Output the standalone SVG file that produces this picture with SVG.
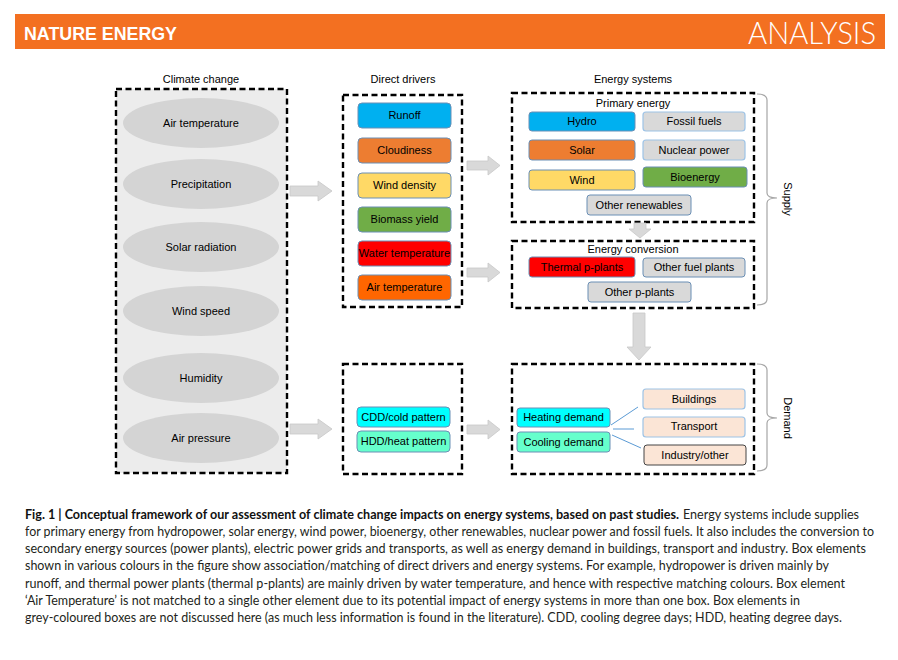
<svg xmlns="http://www.w3.org/2000/svg" width="898" height="660" viewBox="0 0 898 660">
<style>
.lbl{font-family:"Liberation Sans",Arial,sans-serif;font-size:11px;fill:#000;text-anchor:middle}
.ttl{font-family:"Liberation Sans",Arial,sans-serif;font-size:11px;fill:#000;text-anchor:middle}
.dash{fill:none;stroke:#000;stroke-width:2.4;stroke-dasharray:6 3.5}
.ell{fill:#d4d4d4;stroke:none}
.box{stroke:#6b8fb5;stroke-width:1}
.lbox{stroke:#9dc3e6;stroke-width:1.2}
.arr{fill:#d9d9d9;stroke:#c8c8c8;stroke-width:0.8}
.brace{fill:none;stroke:#a6a6a6;stroke-width:1.2}
.cap{font-family:Lato,"Open Sans","Liberation Sans",sans-serif;font-size:12.6px;fill:#231f20}
.capb{font-family:Lato,"Open Sans","Liberation Sans",sans-serif;font-size:12.6px;font-weight:bold;fill:#111}
.ln{stroke:#5b9bd5;stroke-width:1;fill:none}
</style>
<rect width="898" height="660" fill="#fff"/>
<g id="header">
<rect x="15" y="14" width="870" height="35" fill="#f37021"/>
<text x="24" y="40" font-family="'Liberation Sans',Arial,sans-serif" font-size="19" font-weight="bold" fill="#fff" textLength="153" lengthAdjust="spacingAndGlyphs">NATURE ENERGY</text>
<text x="748" y="44" font-family="Lato,'Open Sans','Liberation Sans',sans-serif" font-size="32" font-weight="300" fill="#fff" textLength="128" lengthAdjust="spacingAndGlyphs">ANALYSIS</text>
</g>

<g id="titles">
<text class="ttl" x="201" y="83">Climate change</text>
<text class="ttl" x="403" y="83">Direct drivers</text>
<text class="ttl" x="633" y="83">Energy systems</text>
</g>

<g id="climate-change">
<rect x="116" y="89" width="171" height="384" fill="#ececec"/>
<rect x="116" y="89" width="171" height="384" class="dash"/>
<g id="cc-air-temperature"><ellipse class="ell" cx="201" cy="123" rx="78" ry="25"/><text class="lbl" x="201" y="127">Air temperature</text></g>
<g id="cc-precipitation"><ellipse class="ell" cx="201" cy="184" rx="78" ry="25"/><text class="lbl" x="201" y="188">Precipitation</text></g>
<g id="cc-solar-radiation"><ellipse class="ell" cx="201" cy="247" rx="78" ry="25"/><text class="lbl" x="201" y="251">Solar radiation</text></g>
<g id="cc-wind-speed"><ellipse class="ell" cx="201" cy="311" rx="78" ry="25"/><text class="lbl" x="201" y="315">Wind speed</text></g>
<g id="cc-humidity"><ellipse class="ell" cx="201" cy="378" rx="78" ry="25"/><text class="lbl" x="201" y="382">Humidity</text></g>
<g id="cc-air-pressure"><ellipse class="ell" cx="201" cy="438" rx="78" ry="25"/><text class="lbl" x="201" y="442">Air pressure</text></g>
</g>

<g id="direct-drivers">
<rect x="343" y="95" width="119" height="212" class="dash"/>
<g id="dd-runoff"><rect class="box" x="358" y="103" width="93" height="25" rx="4" fill="#00b0f0"/><text class="lbl" x="404.5" y="119">Runoff</text></g>
<g id="dd-cloudiness"><rect class="box" x="358" y="138" width="93" height="25" rx="4" fill="#ed7d31"/><text class="lbl" x="404.5" y="154">Cloudiness</text></g>
<g id="dd-wind-density"><rect class="box" x="358" y="173" width="93" height="25" rx="4" fill="#ffd966"/><text class="lbl" x="404.5" y="189">Wind density</text></g>
<g id="dd-biomass-yield"><rect class="box" x="358" y="207" width="93" height="25" rx="4" fill="#70ad47"/><text class="lbl" x="404.5" y="223">Biomass yield</text></g>
<g id="dd-water-temperature"><rect class="box" x="358" y="241" width="93" height="25" rx="4" fill="#ff0000"/><text class="lbl" x="404.5" y="257">Water temperature</text></g>
<g id="dd-air-temperature"><rect class="box" x="358" y="275" width="93" height="25" rx="4" fill="#ff6600"/><text class="lbl" x="404.5" y="291">Air temperature</text></g>
</g>

<g id="demand-drivers">
<rect x="343" y="364" width="119" height="110" class="dash"/>
<g id="dd-cdd"><rect class="box" x="357" y="407" width="93" height="20" rx="4" fill="#00ffff"/><text class="lbl" x="403.5" y="421">CDD/cold pattern</text></g>
<g id="dd-hdd"><rect class="box" x="357" y="431" width="93" height="21" rx="4" fill="#66ffcc"/><text class="lbl" x="403.5" y="445">HDD/heat pattern</text></g>
</g>

<g id="primary-energy">
<rect x="512" y="93" width="242" height="129" class="dash"/>
<text class="ttl" x="633" y="107">Primary energy</text>
<g id="pe-hydro"><rect class="box" x="529" y="112" width="106" height="19" rx="3" fill="#00b0f0"/><text class="lbl" x="582" y="125">Hydro</text></g>
<g id="pe-fossil"><rect class="lbox" x="643" y="112" width="102" height="19" rx="3" fill="#d9d9d9"/><text class="lbl" x="694" y="125">Fossil fuels</text></g>
<g id="pe-solar"><rect class="box" x="529" y="140" width="106" height="20" rx="3" fill="#ed7d31"/><text class="lbl" x="582" y="154">Solar</text></g>
<g id="pe-nuclear"><rect class="lbox" x="643" y="140" width="102" height="20" rx="3" fill="#d9d9d9"/><text class="lbl" x="694" y="154">Nuclear power</text></g>
<g id="pe-wind"><rect class="box" x="529" y="170" width="106" height="20" rx="3" fill="#ffd966"/><text class="lbl" x="582" y="184">Wind</text></g>
<g id="pe-bioenergy"><rect class="box" x="643" y="167" width="104" height="20" rx="3" fill="#70ad47"/><text class="lbl" x="695" y="181">Bioenergy</text></g>
<g id="pe-other"><rect class="box" x="587" y="195" width="104" height="20" rx="3" fill="#d9d9d9"/><text class="lbl" x="639" y="209">Other renewables</text></g>
</g>

<g id="energy-conversion">
<rect x="512" y="241" width="242" height="67" class="dash"/>
<text class="ttl" x="633" y="253">Energy conversion</text>
<g id="ec-thermal"><rect class="box" x="529" y="257" width="106" height="20" rx="3" fill="#ff0000"/><text class="lbl" x="582" y="271">Thermal p-plants</text></g>
<g id="ec-other-fuel"><rect class="box" x="643" y="258" width="102" height="19" rx="3" fill="#d9d9d9"/><text class="lbl" x="694" y="271">Other fuel plants</text></g>
<g id="ec-other-p"><rect class="box" x="588" y="282" width="103" height="20" rx="3" fill="#d9d9d9"/><text class="lbl" x="639.5" y="296">Other p-plants</text></g>
</g>

<g id="demand">
<rect x="512" y="364" width="242" height="110" class="dash"/>
<g id="dm-heating"><rect class="box" x="517" y="408" width="93" height="19" rx="3" fill="#00ffff"/><text class="lbl" x="563.5" y="421">Heating demand</text></g>
<g id="dm-cooling"><rect class="box" x="517" y="432" width="93" height="20" rx="3" fill="#66ffcc"/><text class="lbl" x="563.5" y="446">Cooling demand</text></g>
<g id="dm-buildings"><rect class="lbox" x="643" y="389" width="102" height="20" rx="3" fill="#fbe5d6"/><text class="lbl" x="694" y="403">Buildings</text></g>
<g id="dm-transport"><rect class="lbox" x="643" y="417" width="102" height="20" rx="3" fill="#fbe5d6"/><text class="lbl" x="694" y="430">Transport</text></g>
<g id="dm-industry"><rect x="644" y="445" width="102" height="20" rx="3" fill="#fbe5d6" stroke="#444" stroke-width="1"/><text class="lbl" x="695" y="459">Industry/other</text></g>
</g>

<g id="connectors">
<polygon class="arr" points="290,186 318,186 318,181 332,191 318,201 318,196 290,196"/>
<polygon class="arr" points="290,424 318,424 318,419 332,429 318,439 318,434 290,434"/>
<polygon class="arr" points="467,161 488,161 488,156 500,165.5 488,175 488,170 467,170"/>
<polygon class="arr" points="467,268 488,268 488,263 500,272.5 488,282 488,277 467,277"/>
<polygon class="arr" points="467,425 488,425 488,420 500,429.5 488,439 488,434 467,434"/>
<polygon class="arr" points="634,223 646,223 646,229 651,229 640,238 629,229 634,229"/>
<polygon class="arr" points="633,313 645,313 645,347 651,347 639,360 627,347 633,347"/>
<line class="ln" x1="611" y1="425" x2="638" y2="407"/>
<line class="ln" x1="613" y1="429" x2="634" y2="429"/>
<line class="ln" x1="612" y1="435" x2="641" y2="448"/>
</g>

<g id="supply-brace">
<path class="brace" d="M757,94 Q767,94 767,100 L767,193 Q767,198 777,198 Q767,198 767,203 L767,299 Q767,305 757,305"/>
<text x="784" y="199" font-family="'Liberation Sans',Arial,sans-serif" font-size="11" text-anchor="middle" transform="rotate(90 784 199)">Supply</text>
</g>
<g id="demand-brace">
<path class="brace" d="M757,364 Q767,364 767,370 L767,413 Q767,418 777,418 Q767,418 767,423 L767,465 Q767,471 757,471"/>
<text x="784" y="418" font-family="'Liberation Sans',Arial,sans-serif" font-size="11" text-anchor="middle" transform="rotate(90 784 418)">Demand</text>
</g>

<g id="caption">
<text class="capb" x="25" y="519" textLength="654" lengthAdjust="spacingAndGlyphs">Fig. 1 | Conceptual framework of our assessment of climate change impacts on energy systems, based on past studies.</text>
<text class="cap" x="683" y="519" textLength="176" lengthAdjust="spacingAndGlyphs">Energy systems include supplies</text>
<text class="cap" x="25" y="536" textLength="849" lengthAdjust="spacingAndGlyphs">for primary energy from hydropower, solar energy, wind power, bioenergy, other renewables, nuclear power and fossil fuels. It also includes the conversion to</text>
<text class="cap" x="25" y="553" textLength="841" lengthAdjust="spacingAndGlyphs">secondary energy sources (power plants), electric power grids and transports, as well as energy demand in buildings, transport and industry. Box elements</text>
<text class="cap" x="25" y="570" textLength="804" lengthAdjust="spacingAndGlyphs">shown in various colours in the figure show association/matching of direct drivers and energy systems. For example, hydropower is driven mainly by</text>
<text class="cap" x="25" y="588" textLength="820" lengthAdjust="spacingAndGlyphs">runoff, and thermal power plants (thermal p-plants) are mainly driven by water temperature, and hence with respective matching colours. Box element</text>
<text class="cap" x="25" y="605" textLength="775" lengthAdjust="spacingAndGlyphs">‘Air Temperature’ is not matched to a single other element due to its potential impact of energy systems in more than one box. Box elements in</text>
<text class="cap" x="25" y="622" textLength="817" lengthAdjust="spacingAndGlyphs">grey-coloured boxes are not discussed here (as much less information is found in the literature). CDD, cooling degree days; HDD, heating degree days.</text>
</g>
</svg>
